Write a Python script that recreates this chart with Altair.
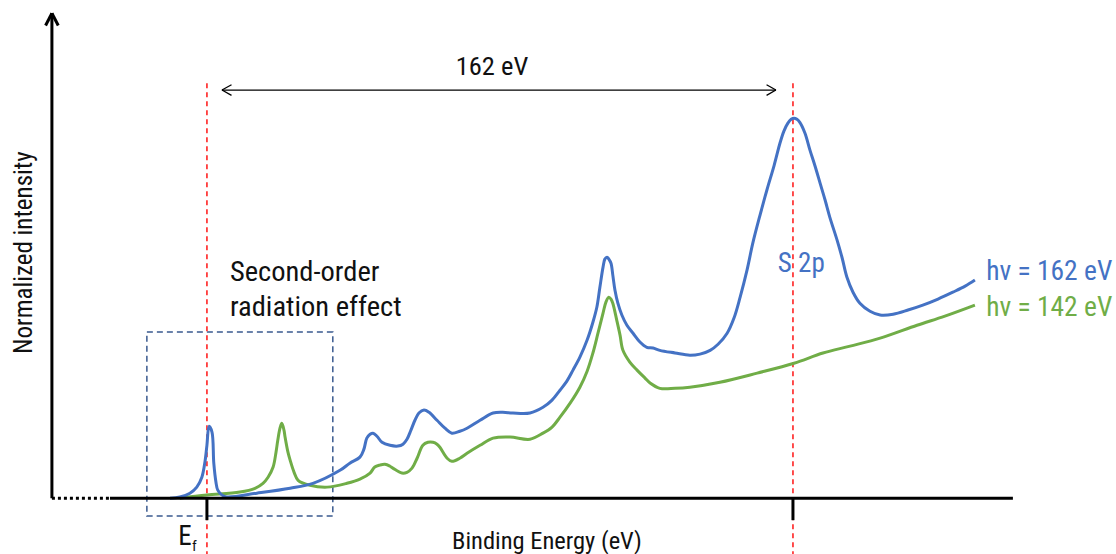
import altair as alt
import pandas as pd

# ---------------- data (binding energy in eV, normalized intensity, S 2p peak = 100) ----------------
BE_BLUE = [-10.2, -7.5, -4.7, -2.8, -1.4, -0.55, 0.0, 0.6, 1.4, 1.9, 2.5, 3.0, 4.2, 5.5,
           13.8, 23.0, 29.3, 36.9, 39.5, 42.3, 43.4, 44.2, 45.1, 45.9, 47.0, 48.4, 50.6, 52.8,
           54.2, 55.3, 56.4, 57.5, 58.6, 60.0, 61.4, 63.6, 65.8, 67.7, 69.9, 71.9, 75.5, 79.1,
           81.8, 84.6, 89.3, 92.9, 95.4, 97.6, 99.5, 101.2, 103.1, 105.1, 106.7, 107.8, 108.6,
           109.5, 110.0, 110.6, 111.1, 111.7, 112.2, 112.8, 113.6, 114.7, 116.1, 117.8, 119.7,
           121.6, 123.3, 125.2, 129.4, 133.5, 136.3, 139.1, 141.3, 143.8, 145.7, 147.4, 149.3,
           150.9, 152.9, 154.8, 156.8, 158.4, 159.5, 160.6, 161.5, 162.3, 163.1, 163.9, 165.3,
           166.7, 168.1, 169.5, 170.9, 172.2, 174.2, 175.6, 176.9, 178.6, 180.5, 183.3, 186.1,
           189.7, 193.8, 197.9, 202.1, 206.2, 209.6, 212.3]
I_BLUE = [0.0, 0.3, 1.3, 2.9, 5.5, 9.5, 13.9, 18.9, 17.4, 9.2, 4.2, 2.1, 0.8, 0.3,
          1.3, 2.6, 3.9, 7.4, 9.2, 10.8, 12.9, 15.8, 16.8, 17.1, 16.3, 14.7, 13.9, 13.7,
          14.2, 15.5, 17.9, 20.5, 22.4, 23.2, 22.6, 20.5, 18.4, 17.1, 17.6, 18.4, 20.5, 22.4,
          22.6, 22.4, 22.4, 23.9, 25.8, 28.4, 30.8, 33.7, 37.1, 41.6, 46.3, 50.3, 55.3,
          60.8, 62.9, 63.4, 62.9, 61.8, 58.7, 54.7, 51.3, 48.2, 45.5, 43.4, 41.1,
          39.7, 39.5, 38.9, 38.2, 37.6, 37.9, 38.9, 40.5, 43.4, 47.4, 52.9, 60.0,
          67.1, 74.5, 81.1, 87.6, 93.4, 96.6, 98.7, 99.7, 100.0, 99.7, 98.9, 96.1,
          91.6, 87.4, 82.9, 78.4, 73.9, 67.9, 63.2, 58.2, 54.2, 51.3, 49.2, 48.2,
          48.4, 49.5, 50.8, 52.4, 54.2, 55.8, 57.4]

BE_GREEN = [-7.5, 0.0, 9.1, 13.3, 15.5, 16.9, 18.3, 19.1, 19.6, 20.2, 20.7, 21.3, 21.6, 22.4,
            23.0, 24.1, 25.2, 28.5, 33.2, 38.7, 42.3, 45.1, 46.4, 47.8, 49.2, 50.6, 51.4, 53.9,
            55.3, 56.7, 58.1, 59.7, 61.1, 62.5, 63.6, 64.4, 66.4, 67.7, 69.9, 71.9, 75.5, 79.1,
            83.8, 89.3, 92.9, 95.4, 97.6, 100.4, 103.1, 105.1, 106.7, 108.1, 109.5, 110.3, 111.1,
            111.7, 112.2, 113.3, 114.2, 115.0, 116.9, 118.9, 121.1, 122.5, 125.2, 129.4, 133.5,
            141.8, 152.1, 162.3, 170.3, 177.8, 186.1, 196.3, 204.0, 212.3]
I_GREEN = [0.0, 0.8, 1.6, 2.6, 3.9, 5.5, 8.2, 12.1, 15.3, 18.4, 19.7, 17.9, 16.1, 12.1,
           10.0, 6.8, 4.7, 3.4, 2.9, 3.9, 5.0, 6.6, 8.2, 8.7, 8.9, 8.4, 7.9, 6.6,
           6.8, 7.9, 10.5, 13.9, 14.7, 14.7, 14.2, 13.4, 10.5, 9.7, 10.5, 11.8, 13.9, 15.8,
           16.1, 15.5, 17.1, 18.7, 21.3, 25.0, 29.2, 33.4, 38.2, 43.4, 48.7, 51.6, 52.9,
           52.4, 51.3, 46.8, 42.9, 38.9, 35.8, 33.7, 31.6, 30.3, 28.9, 28.9, 29.2,
           30.5, 32.9, 35.5, 38.2, 40.0, 42.1, 45.5, 47.9, 50.8]

SERIES = ["hv = 162 eV", "hv = 142 eV"]
COLORS = ["#4472C4", "#70AD47"]
MARKED_ENERGIES = [0.0, 162.0]          # E_f and S 2p
SPLIT_LABEL = "162 eV"

X_DOMAIN = [-57.2, 251.3]
Y_DOMAIN = [-14.7, 131.1]

FONT = "Roboto Condensed, Liberation Sans Narrow, DejaVu Sans Condensed, Arial Narrow, sans-serif"

xs = alt.Scale(domain=X_DOMAIN, nice=False, zero=False)
ys = alt.Scale(domain=Y_DOMAIN, nice=False, zero=False)


def X(f="x"):
    return alt.X(f"{f}:Q", scale=xs, axis=None)


def Y(f="y"):
    return alt.Y(f"{f}:Q", scale=ys, axis=None)


def segs(rows, **mark):
    df = pd.DataFrame(rows, columns=["x", "y", "x2", "y2"])
    return alt.Chart(df).mark_rule(**mark).encode(
        x=X(), y=Y(), x2=alt.X2("x2:Q"), y2=alt.Y2("y2:Q"))


def text(rows, **mark):
    df = pd.DataFrame(rows, columns=["x", "y", "t"])
    return alt.Chart(df).mark_text(font=FONT, **mark).encode(x=X(), y=Y(), text="t:N")


blue = pd.DataFrame({"x": BE_BLUE, "y": I_BLUE, "s": SERIES[0]})
green = pd.DataFrame({"x": BE_GREEN, "y": I_GREEN, "s": SERIES[1]})

line_green = alt.Chart(green).mark_line(color=COLORS[1], strokeWidth=3, interpolate="catmull-rom").encode(x=X(), y=Y())
line_blue = alt.Chart(blue).mark_line(color=COLORS[0], strokeWidth=3, interpolate="catmull-rom").encode(x=X(), y=Y())

# red dashed markers
red = segs([[e, 109.2, e, Y_DOMAIN[0]] for e in MARKED_ENERGIES],
           color="#FF3B3B", strokeWidth=1.8, strokeDash=[5, 4])

# axes (drawn as arrows)
axes_solid = segs([[-42.85, 0.0, -42.85, 127.6],
                   [-26.8, 0.0, 222.8, 0.0],
                   [-42.85, 127.6, -44.6, 124.4],
                   [-42.85, 127.6, -41.1, 124.4]] +
                  [[e, 0.0, e, -5.8] for e in MARKED_ENERGIES],
                  color="black", strokeWidth=3)
axes_dot = segs([[-42.85, 0.0, -26.8, 0.0]], color="black", strokeWidth=3, strokeDash=[3, 3])

# double arrow 162 eV
arrow = segs([[4.15, 107.4, 157.3, 107.4],
              [4.15, 107.4, 6.8, 108.8], [4.15, 107.4, 6.8, 106.0],
              [157.3, 107.4, 154.7, 108.8], [157.3, 107.4, 154.7, 106.0]],
             color="black", strokeWidth=1.3)

# dashed box around second-order peaks
box_df = pd.DataFrame({"x": [-16.6], "x2": [34.8], "y": [43.7], "y2": [-4.7]})
box = alt.Chart(box_df).mark_rect(fill=None, fillOpacity=0, stroke="#3A5A8F", strokeWidth=1.5,
                                  strokeDash=[6, 4]).encode(
    x=X(), x2=alt.X2("x2:Q"), y=Y(), y2=alt.Y2("y2:Q"))

t_split = text([[78.8, 113.4, SPLIT_LABEL]], fontSize=26.5, color="#111111", align="center", baseline="middle")
t_second = text([[6.36, 59.4, "Second-order"], [6.36, 50.4, "radiation effect"]],
                fontSize=28.5, color="#111111", align="left", baseline="middle")
t_s2p = text([[164.3, 61.6, "S 2p"]], fontSize=27, color=COLORS[0], align="center", baseline="middle")
t_blue = text([[215.4, 59.6, SERIES[0]]], fontSize=27.5, color=COLORS[0], align="left", baseline="middle")
t_green = text([[215.4, 50.1, SERIES[1]]], fontSize=27.5, color=COLORS[1], align="left", baseline="middle")
t_E = text([[-6.1, -10.3, "E"]], fontSize=27, color="#111111", align="center", baseline="middle")
t_f = text([[-3.5, -12.6, "f"]], fontSize=15, color="#111111", align="center", baseline="middle")
t_xlab = text([[94.0, -11.6, "Binding Energy (eV)"]], fontSize=24.5, color="#111111", align="center", baseline="middle")
t_ylab = text([[-50.6, 64.6, "Normalized intensity"]], fontSize=25, color="#111111", align="center",
              baseline="middle", angle=270)

chart = alt.layer(
    box, red, line_green, line_blue, axes_dot, axes_solid, arrow,
    t_split, t_second, t_s2p, t_blue, t_green, t_E, t_f, t_xlab, t_ylab
).properties(
    width=1116, height=554, padding=0, autosize="none", background="white"
).configure_view(strokeWidth=0)

chart.save("out.html", embed_options={"renderer": "svg", "actions": False})
